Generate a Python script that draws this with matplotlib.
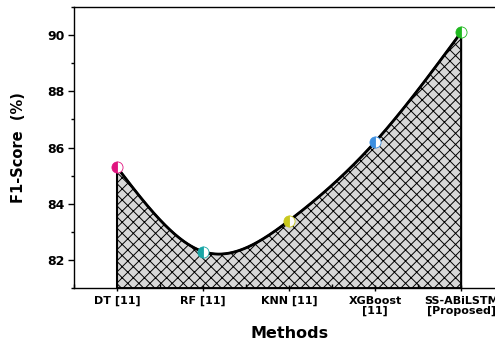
import numpy as np
import matplotlib.pyplot as plt
from matplotlib.ticker import MultipleLocator

# F1-score of each method
methods = ['DT [11]', 'RF [11]', 'KNN [11]', 'XGBoost\n[11]', 'SS-ABiLSTM\n[Proposed]']
f1_score = [85.3, 82.3, 83.4, 86.2, 90.1]
marker_colors = ['#e0147f', '#18a6a6', '#c9c91e', '#3c8fe0', '#1fb81f']

plt.rcParams['font.family'] = ['DejaVu Sans']
plt.rcParams['font.weight'] = 'bold'
plt.rcParams['hatch.linewidth'] = 0.7


# natural cubic spline for a smooth curve through the points
def natural_spline(x, y, n=300):
    x = np.asarray(x, float)
    y = np.asarray(y, float)
    k = len(x)
    h = np.diff(x)
    A = np.zeros((k, k))
    b = np.zeros(k)
    A[0, 0] = A[-1, -1] = 1
    for i in range(1, k - 1):
        A[i, i - 1] = h[i - 1]
        A[i, i] = 2 * (h[i - 1] + h[i])
        A[i, i + 1] = h[i]
        b[i] = 6 * ((y[i + 1] - y[i]) / h[i] - (y[i] - y[i - 1]) / h[i - 1])
    m = np.linalg.solve(A, b)
    xs = np.linspace(x[0], x[-1], n)
    idx = np.clip(np.searchsorted(x, xs) - 1, 0, k - 2)
    t = xs - x[idx]
    hi = h[idx]
    a = (m[idx + 1] - m[idx]) / (6 * hi)
    bb = m[idx] / 2
    c = (y[idx + 1] - y[idx]) / hi - hi * (2 * m[idx] + m[idx + 1]) / 6
    ys = y[idx] + c * t + bb * t ** 2 + a * t ** 3
    return xs, ys


x = np.arange(len(methods))
xs, ys = natural_spline(x, f1_score)

fig = plt.figure(figsize=(4.95, 3.43), dpi=100)
ax = fig.add_axes([0.1495, 0.160, 0.869, 0.8196])

ax.fill_between(xs, 81, ys, facecolor='#d8d8d8', edgecolor='black',
                hatch='xxx', linewidth=1.5, zorder=1)
ax.plot(xs, ys, color='black', linewidth=2, zorder=2)
for xi, yi, col in zip(x, f1_score, marker_colors):
    ax.plot(xi, yi, 'o', markersize=8, color=col, fillstyle='left',
            markerfacecoloralt='white', markeredgecolor=col,
            markeredgewidth=0.6, zorder=3)

ax.set_xlim(-0.5, len(methods) - 0.5)
ax.set_ylim(81, 91)
ax.set_xticks(x)
ax.set_xticklabels(methods, fontsize=8, fontweight='bold', linespacing=1.05)
ax.xaxis.set_minor_locator(MultipleLocator(0.5))
ax.yaxis.set_major_locator(MultipleLocator(2))
ax.yaxis.set_minor_locator(MultipleLocator(1))
for lbl in ax.get_yticklabels():
    lbl.set_fontsize(9)
    lbl.set_fontweight('bold')
ax.tick_params(axis='x', which='major', direction='inout', length=5, width=1, pad=3)
ax.tick_params(axis='x', which='minor', direction='in', length=3, width=1)
ax.tick_params(axis='y', which='major', direction='out', length=4, width=1, pad=3)
ax.tick_params(axis='y', which='minor', direction='out', length=2, width=1)
for sp in ax.spines.values():
    sp.set_linewidth(1)
ax.spines['right'].set_visible(False)

ax.set_xlabel('Methods', fontsize=11.5, fontweight='bold', labelpad=7)
ax.set_ylabel('F1-Score  (%)', fontsize=10.5, fontweight='bold', labelpad=15)

fig.savefig('out.png', dpi=100)
